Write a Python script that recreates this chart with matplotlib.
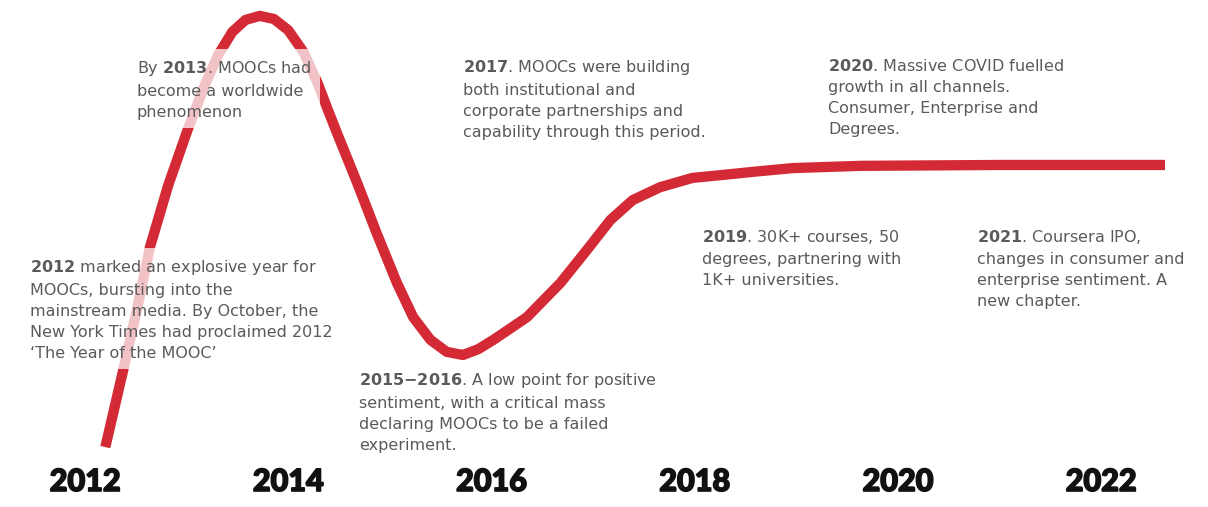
import matplotlib
matplotlib.use("Agg")
import matplotlib.pyplot as plt
import matplotlib.patheffects as pe

plt.rcParams['font.family'] = ['DejaVu Sans']
plt.rcParams['mathtext.fontset'] = 'dejavusans'

# sentiment curve (year, relative sentiment)
years = [2012.20, 2012.37, 2012.51, 2012.64, 2012.82, 2013.01, 2013.18, 2013.31,
         2013.45, 2013.58, 2013.72, 2013.86, 2014.00, 2014.15, 2014.29, 2014.39,
         2014.48, 2014.68, 2014.87, 2015.07, 2015.23, 2015.40, 2015.56, 2015.72,
         2015.87, 2016.02, 2016.35, 2016.68, 2016.94, 2017.17, 2017.39, 2017.66,
         2017.98, 2018.25, 2018.64, 2018.97, 2019.63, 2021.01, 2022.63]
sentiment = [2.9, 19.6, 33.7, 47.9, 61.8, 74.2, 84.3, 91.0,
             96.2, 98.9, 99.8, 99.1, 96.6, 91.7, 84.7, 78.7,
             73.5, 62.2, 51.0, 39.8, 32.1, 27.0, 24.3, 23.6,
             24.9, 27.0, 32.1, 39.8, 47.2, 53.9, 58.4, 61.3,
             63.4, 64.0, 64.9, 65.6, 66.1, 66.3, 66.3]

tick_years = [2012, 2014, 2016, 2018, 2020, 2022]

notes = [
    r"$\bf{2012}$ marked an explosive year for" "\n"
    "MOOCs, bursting into the\n"
    "mainstream media. By October, the\n"
    "New York Times had proclaimed 2012\n"
    "\u2018The Year of the MOOC\u2019",
    r"By $\bf{2013}$. MOOCs had" "\n"
    "become a worldwide\n"
    "phenomenon",
    r"$\bf{2017}$. MOOCs were building" "\n"
    "both institutional and\n"
    "corporate partnerships and\n"
    "capability through this period.",
    r"$\bf{2015{-}2016}$. A low point for positive" "\n"
    "sentiment, with a critical mass\n"
    "declaring MOOCs to be a failed\n"
    "experiment.",
    r"$\bf{2019}$. 30K+ courses, 50" "\n"
    "degrees, partnering with\n"
    "1K+ universities.",
    r"$\bf{2020}$. Massive COVID fuelled" "\n"
    "growth in all channels.\n"
    "Consumer, Enterprise and\n"
    "Degrees.",
    r"$\bf{2021}$. Coursera IPO," "\n"
    "changes in consumer and\n"
    "enterprise sentiment. A\n"
    "new chapter.",
]
# top-left corner of each note in pixels
note_pos = [(30, 258), (137, 59), (463, 58), (359, 371), (702, 228), (828, 58), (977, 228)]

W, H = 1208, 507
fig = plt.figure(figsize=(W / 100, H / 100), dpi=100)
ax = fig.add_axes([0, 0, 1, 1])
ax.set_xlim(2012 - 85 / 101.6, 2012 + (W - 85) / 101.6)
ax.set_ylim((460 - H) / 4.45, 460 / 4.45)
ax.axis('off')

ax.plot(years, sentiment, color='#d42a35', lw=7.4, solid_capstyle='butt',
        solid_joinstyle='round', zorder=1)

for txt, (px, py) in zip(notes, note_pos):
    ax.text(px / W, 1 - py / H, txt, transform=ax.transAxes, ha='left', va='top',
            fontsize=11.5, color='#5a5a5a', linespacing=1.5, zorder=3,
            bbox=dict(facecolor='white', alpha=0.72, edgecolor='none', pad=6))

for yr in tick_years:
    ax.text(yr, (460 - 482) / 4.45, str(yr), ha='center', va='center',
            fontsize=22, fontweight='black', family=['Lato', 'DejaVu Sans'],
            color='#111111',
            path_effects=[pe.withStroke(linewidth=1.2, foreground='#111111')])

fig.savefig('out.png', dpi=100)
